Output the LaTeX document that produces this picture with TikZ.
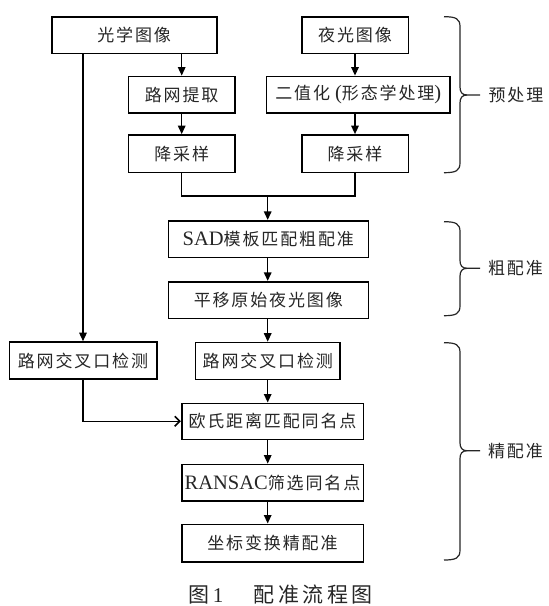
\documentclass[tikz,border=0pt]{standalone}
\usepackage{fontspec}
\setmainfont{Liberation Serif}
\newfontfamily\cjfont[LetterSpace=11]{Noto Sans CJK SC}
\newfontfamily\capcjfont[LetterSpace=17]{Noto Sans CJK SC}
\usetikzlibrary{arrows.meta}
\newcommand{\lat}[1]{{\fontsize{20.5}{22}\selectfont\rmfamily #1}}
\newcommand{\brc}[3]{%
  \draw[bracestyle] (444,#1) .. controls (456,#1) and (460,#1+2) .. (460,#1+10) -- (460,#3-8) .. controls (460,#3-3) and (462,#3) .. (467,#3) -- (480,#3);
  \draw[bracestyle] (444,#2) .. controls (456,#2) and (460,#2-2) .. (460,#2-10) -- (460,#3+8) .. controls (460,#3+3) and (462,#3) .. (467,#3);
}
\tikzset{
  box/.style={draw, line width=1.6pt, inner sep=0pt, minimum height=36.6pt,
    font=\fontsize{17}{20}\selectfont, text=black!85},
  arr/.style={line width=1.4pt, -{Triangle[length=8.5pt,width=7.5pt]}},
  openarr/.style={line width=1.4pt, -{Straight Barb[length=5pt,width=10pt,line width=1.6pt]}},
  conn/.style={line width=1.4pt},
  bracestyle/.style={line width=1.2pt, black!85},
  lbl/.style={font=\fontsize{17}{20}\selectfont, text=black!85, inner sep=0pt},
  captext/.style={font=\fontsize{21}{24}\selectfont, text=black!85, inner sep=0pt}
}
\begin{document}
\begin{tikzpicture}[x=1pt,y=-1pt]
\fill[white] (0,0) rectangle (549,606);
\useasboundingbox (0,0) rectangle (549,606);

\node[box, minimum width=165pt] (opt) at (134.2,35) {\cjfont 光学图像};
\node[box, minimum width=106.6pt] (night) at (355,35) {\cjfont 夜光图像};
\node[box, minimum width=106.7pt] (road) at (181.7,94.7) {\cjfont 路网提取};
\node[box, minimum width=183.3pt] (bin) at (358.3,94.7) {\cjfont 二值化\lat{ (}形态学处理\lat{)}};
\node[box, minimum width=106.7pt, minimum height=37.7pt] (dsL) at (181.7,153.8) {\cjfont 降采样};
\node[box, minimum width=106.6pt, minimum height=37.7pt] (dsR) at (355,153.8) {\cjfont 降采样};
\coordinate (m) at (267.7,196);
\node[box, minimum width=200pt] (sad) at (268.3,239) {\lat{SAD}\cjfont 模板匹配粗配准};
\node[box, minimum width=200pt] (shift) at (268.3,300) {\cjfont 平移原始夜光图像};
\node[box, minimum width=147.4pt, minimum height=37pt] (crossL) at (83,360.5) {\cjfont 路网交叉口检测};
\node[box, minimum width=144.5pt, minimum height=37pt] (crossR) at (267.8,361) {\cjfont 路网交叉口检测};
\node[box, minimum width=181.6pt, minimum height=36pt] (euc) at (272.5,421.3) {\cjfont 欧氏距离匹配同名点};
\node[box, minimum width=181.6pt] (ransac) at (272.5,482.7) {\lat{RANSAC}\cjfont 筛选同名点};
\node[box, minimum width=181.6pt, minimum height=37.4pt] (coord) at (272.5,543) {\cjfont 坐标变换精配准};

% connectors
\draw[arr] (crossL.north |- opt.south) -- (crossL.north);
\draw[arr] (road.north |- opt.south) -- (road.north);
\draw[arr] (night.south) -- (night.south |- bin.north);
\draw[arr] (road.south) -- (dsL.north);
\draw[arr] (dsR.north |- bin.south) -- (dsR.north);
\draw[conn] (dsL.south) |- (m) -| (dsR.south);
\draw[arr] (m) -- (m |- sad.north);
\draw[arr] (m |- sad.south) -- (m |- shift.north);
\draw[arr] (m |- shift.south) -- (m |- crossR.north);
\draw[arr] (m |- crossR.south) -- (m |- euc.north);
\draw[arr] (m |- euc.south) -- (m |- ransac.north);
\draw[arr] (m |- ransac.south) -- (m |- coord.north);
\draw[openarr] (crossL.south) |- (euc.west);

% braces
\brc{16.7}{172.7}{95}
\brc{221.7}{315.7}{268.3}
\brc{342.7}{560}{450.7}
\node[lbl] (preL) at (516,95) {\cjfont 预处理};
\node[lbl] (coarseL) at (515.5,268.3) {\cjfont 粗配准};
\node[lbl] (fineL) at (515.5,450.7) {\cjfont 精配准};

% caption
\node[captext] (cap1) at (205.8,595) {\capcjfont 图\,\rmfamily 1};
\node[captext] (cap2) at (313.3,595) {\capcjfont 配准流程图};
\end{tikzpicture}
\end{document}
